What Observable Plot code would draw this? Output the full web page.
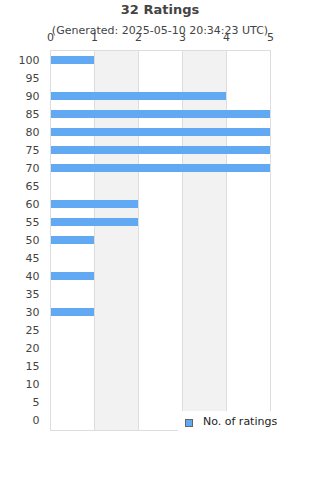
<!DOCTYPE html>
<html>
<head>
<meta charset="utf-8">
<script src="https://cdn.jsdelivr.net/npm/d3@7"></script>
<script src="https://cdn.jsdelivr.net/npm/@observablehq/plot@0.6"></script>
<style>
  html, body { margin: 0; padding: 0; background: #fff; }
  #wrap { position: relative; width: 320px; height: 480px; font-family: "DejaVu Sans", sans-serif; overflow: hidden; }
  #title { position: absolute; left: 0; width: 320px; top: 2px; text-align: center; font-size: 13px; font-weight: bold; color: #444; }
  #subtitle { position: absolute; left: 0; width: 320px; top: 24px; text-align: center; font-size: 11px; color: #444; }
  #legend { position: absolute; left: 178px; top: 411px; width: 142px; height: 22px; background: #fff; font-size: 11px; color: #222; }
  #legend .sw { position: absolute; left: 7px; top: 8px; width: 6px; height: 6px; border: 1px solid #666; }
  #legend .lb { position: absolute; left: 25px; top: 4px; white-space: nowrap; }
  svg { position: absolute; left: 0; top: 0; }
</style>
</head>
<body>
<div id="wrap"></div>
<script>
const titleText = "32 Ratings";
const subtitleText = "(Generated: 2025-05-10 20:34:23 UTC)";
const seriesName = "No. of ratings";
const scores = [100, 95, 90, 85, 80, 75, 70, 65, 60, 55, 50, 45, 40, 35, 30, 25, 20, 15, 10, 5, 0];
const counts = [1, 0, 4, 5, 5, 5, 5, 0, 2, 2, 1, 0, 1, 0, 1, 0, 0, 0, 0, 0, 0];
const xTicks = [0, 1, 2, 3, 4, 5];
const barColor = "#61a9f3";

const data = scores.map((s, i) => ({score: String(s), count: counts[i]}));
const stripes = xTicks.slice(0, -1).map((t, i) => ({x1: t, x2: xTicks[i + 1], odd: i % 2 === 1})).filter(d => d.odd);

const chart = Plot.plot({
  width: 320,
  height: 480,
  marginTop: 50,
  marginBottom: 50,
  marginLeft: 50,
  marginRight: 50,
  style: {fontFamily: "DejaVu Sans, sans-serif", fontSize: "11px", color: "#444", background: "transparent"},
  x: {domain: [0, 5], ticks: xTicks},
  y: {domain: scores.map(String), paddingInner: 0.56, paddingOuter: 0.28},
  marks: [
    Plot.rectX(stripes, {x1: "x1", x2: "x2", fill: "#f2f2f2"}),
    Plot.ruleX(xTicks, {stroke: "#ddd", strokeWidth: 1}),
    Plot.barX(data.filter(d => d.count > 0), {x: "count", y: "score", fill: barColor}),
    Plot.frame({stroke: "#ddd"}),
    Plot.axisX({anchor: "top", ticks: xTicks, tickFormat: d3.format("d"), tickSize: 0, tickPadding: 10, label: null, fill: "#444", fontSize: 11}),
    Plot.axisY({anchor: "left", tickSize: 0, tickPadding: 11, label: null, fill: "#444", fontSize: 11})
  ]
});

const wrap = document.getElementById("wrap");
wrap.appendChild(chart);
const t = document.createElement("div"); t.id = "title"; t.textContent = titleText; wrap.appendChild(t);
const st = document.createElement("div"); st.id = "subtitle"; st.textContent = subtitleText; wrap.appendChild(st);
const lg = document.createElement("div"); lg.id = "legend";
lg.innerHTML = '<div class="sw"></div><div class="lb"></div>';
lg.querySelector(".sw").style.background = barColor;
lg.querySelector(".lb").textContent = seriesName;
wrap.appendChild(lg);
</script>
</body>
</html>
